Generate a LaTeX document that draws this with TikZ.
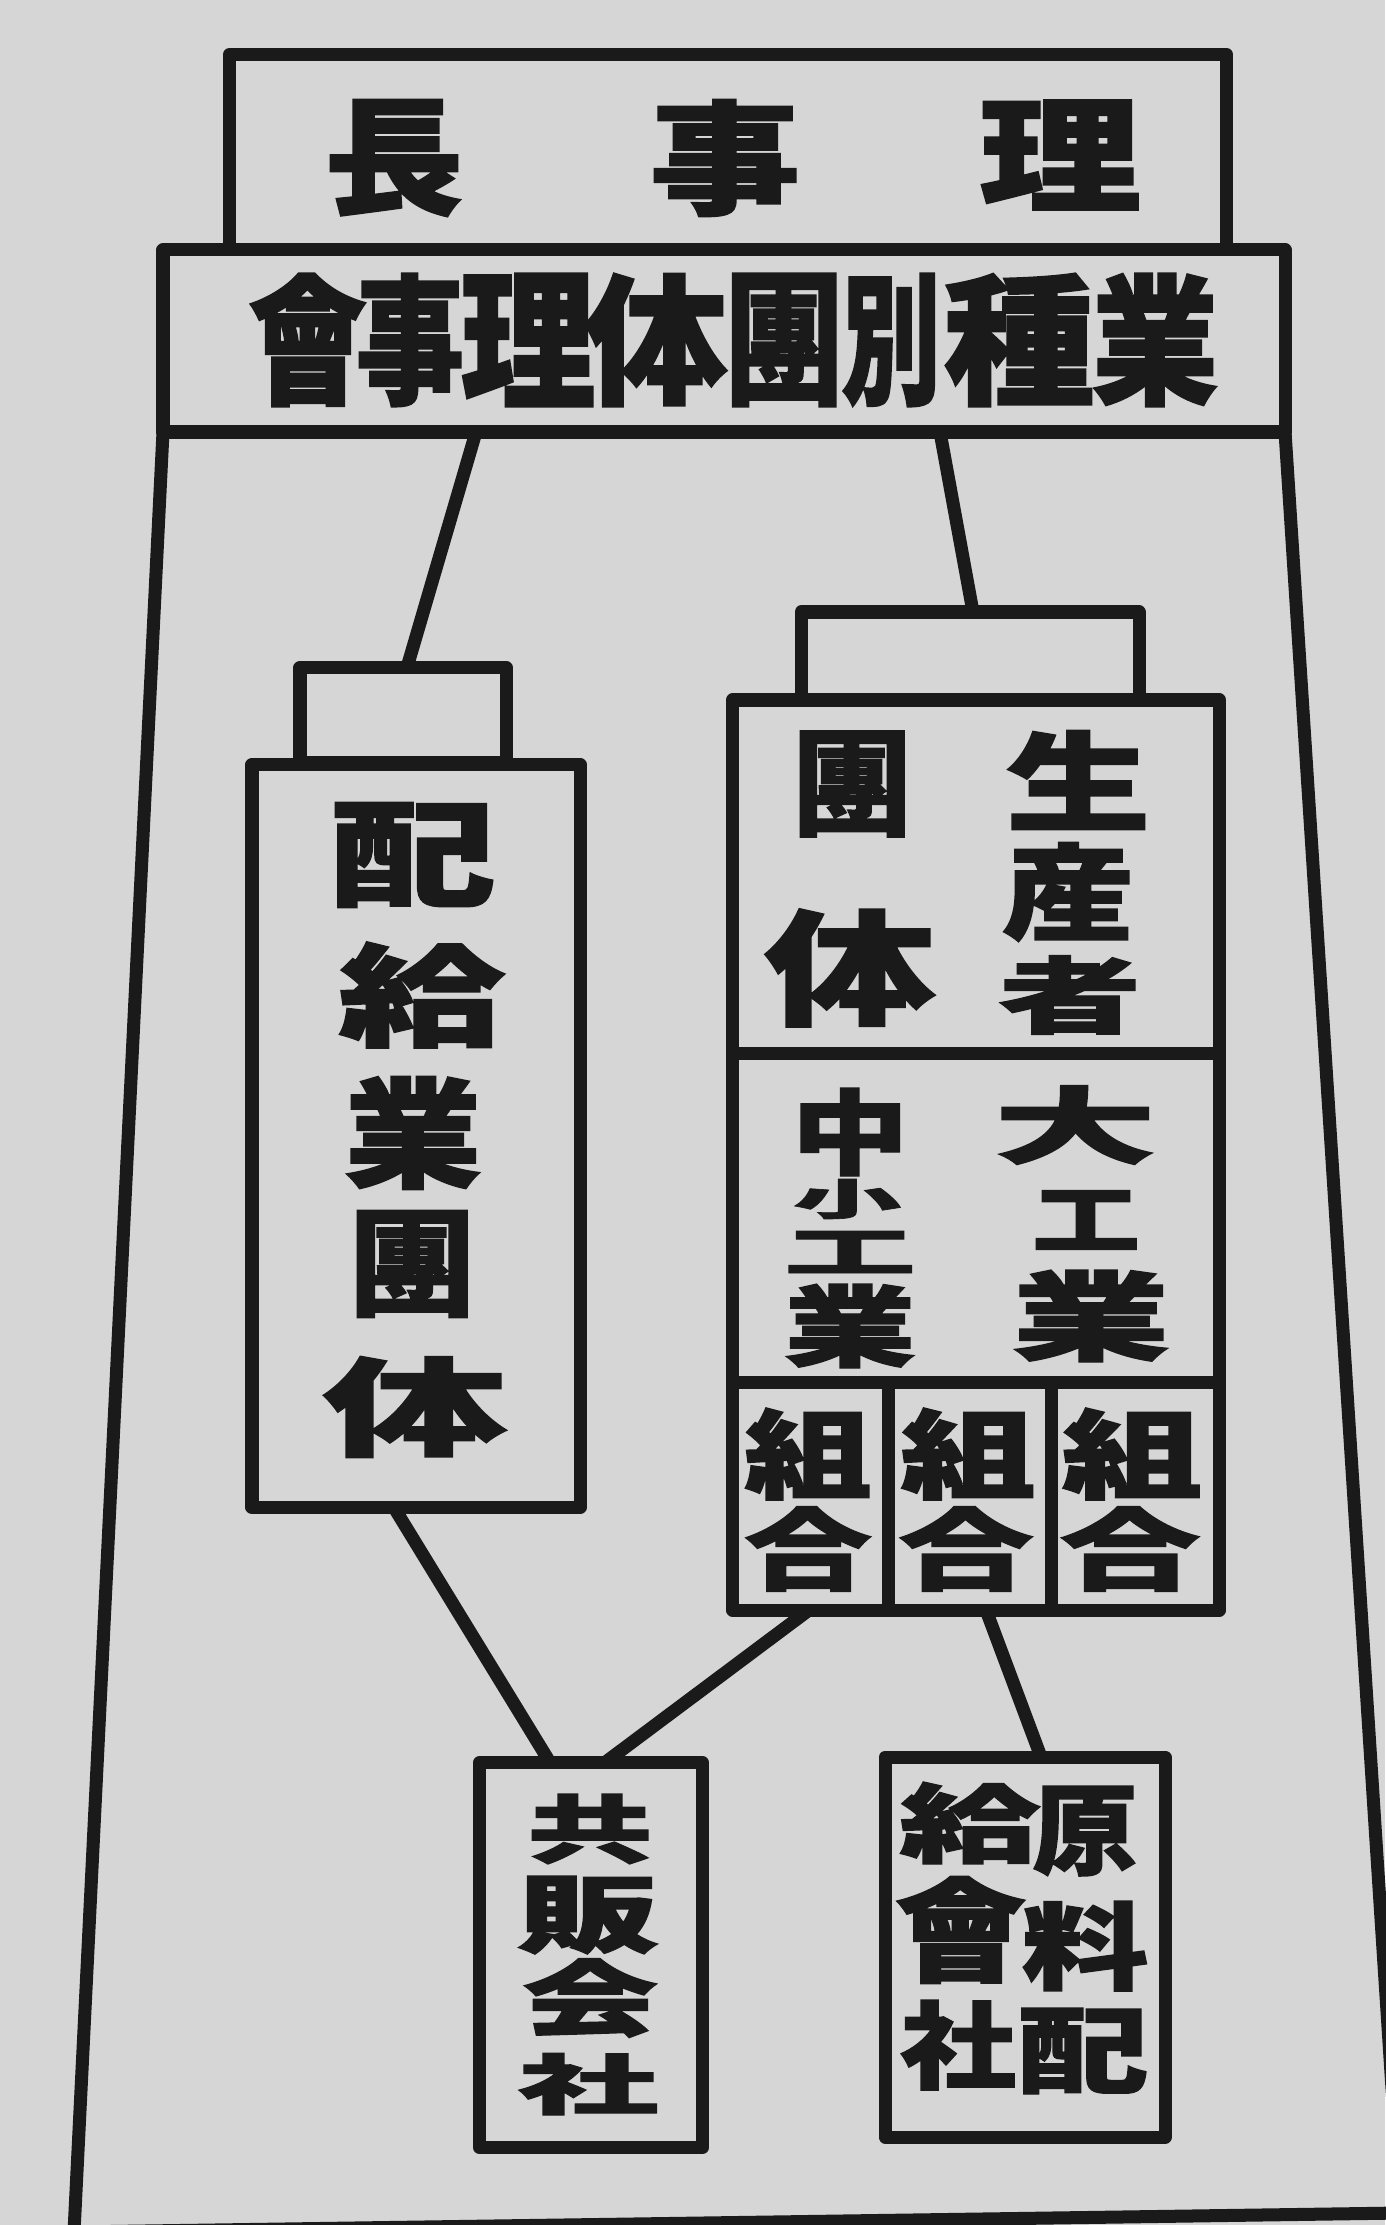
\documentclass[tikz,border=0pt]{standalone}
\usepackage{fontspec}
\usepackage{graphicx}
\newfontfamily\cjk{Noto Sans CJK JP}[BoldFeatures={FakeBold=1.5}]
\usetikzlibrary{calc}
\definecolor{paper}{RGB}{214,214,214}
\definecolor{ink}{RGB}{26,26,26}
\newlength\pxu \setlength\pxu{0.01cm}
\newlength\pxw \setlength\pxw{0.0108cm}
% name, x, y, ink width, ink height, character
\newcommand\ch[6]{\node[glyph] (#1) at (#2,#3) {\resizebox*{#4\pxw}{#5\pxu}{\cjk\bfseries #6}};}
\begin{document}
\begin{tikzpicture}[x=0.01cm,y=-0.01cm,
  box/.style={draw=ink, line width=3.7pt, line join=round, inner sep=0pt, outer sep=0pt},
  rule/.style={draw=ink, line width=3.7pt, line cap=round, line join=round},
  glyph/.style={inner sep=0pt, outer sep=0pt, text=ink}]
\useasboundingbox (0,0) rectangle (1385,2225);
\fill[paper] (0,0) rectangle (1385,2225);

% boxes
\node[box, minimum width=997\pxu, minimum height=195\pxu] (chair) at (728,152) {};
\node[box, minimum width=1122\pxu, minimum height=182\pxu] (council) at (724,341) {};
\node[box, minimum width=206\pxu, minimum height=95\pxu] (ltab) at (403,715) {};
\node[box, minimum width=328\pxu, minimum height=743\pxu] (lbox) at (416,1136) {};
\node[box, minimum width=338\pxu, minimum height=88\pxu] (rtab) at (970,656) {};
\node[box, minimum width=487\pxu, minimum height=910\pxu] (rbox) at (976,1155) {};
\node[box, minimum width=223\pxu, minimum height=385\pxu] (kyo) at (591,1955) {};
\node[box, minimum width=280\pxu, minimum height=380\pxu] (gen) at (1025,1947) {};

% outer frame
\coordinate (fbl) at (74,2232);
\coordinate (fbr) at (1400,2213);
\draw[rule] (council.south west) -- (fbl) -- (fbr) -- (council.south east);

% dividers in right box
\draw[rule, line cap=butt] (rbox.west |- 0,1053) -- (rbox.east |- 0,1053);
\draw[rule, line cap=butt] (rbox.west |- 0,1382) -- (rbox.east |- 0,1382);
\draw[rule, line cap=butt] (888,0 |- rbox.south) -- (888,1382);
\draw[rule, line cap=butt] (1051,0 |- rbox.south) -- (1051,1382);

% connectors
\draw[rule, line cap=butt] (476,0 |- council.south) -- (407,0 |- ltab.north);
\draw[rule, line cap=butt] (940,0 |- council.south) -- (973,0 |- rtab.north);
\draw[rule, line cap=butt] (394,0 |- lbox.south) -- (550,0 |- kyo.north);
\draw[rule, line cap=butt] (809,0 |- rbox.south) -- (605,0 |- kyo.north);
\draw[rule, line cap=butt] (986,0 |- rbox.south) -- (1041,0 |- gen.north);

% texts
\ch{a1}{394}{158}{128}{117}{長}
\ch{a2}{725}{158}{139}{117}{事}
\ch{a3}{1060}{155}{150}{110}{理}

\ch{b1}{308}{340}{110}{133}{會}
\ch{b2}{410}{340}{100}{133}{事}
\ch{b3}{528}{340}{125}{133}{理}
\ch{b4}{656}{340}{132}{133}{体}
\ch{b5}{784}{340}{110}{133}{團}
\ch{b6}{891}{340}{92}{133}{別}
\ch{b7}{1019}{340}{140}{133}{種}
\ch{b8}{1155}{340}{117}{133}{業}

\ch{c1}{413}{855}{153}{105}{配}
\ch{c2}{422}{995}{155}{106}{給}
\ch{c3}{413}{1133}{127}{113}{業}
\ch{c4}{412}{1264}{117}{107}{團}
\ch{c5}{415}{1407}{170}{101}{体}

\ch{d1}{852}{784}{111}{106}{團}
\ch{d2}{850}{968}{158}{118}{体}
\ch{d3}{1078}{780}{134}{99}{生}
\ch{d4}{1068}{892}{122}{99}{産}
\ch{d5}{1070}{995}{132}{79}{者}

\ch{e1}{1075}{1125}{150}{79}{大}
\ch{e2}{1086}{1220}{100}{59}{工}
\ch{e3}{1091}{1316}{146}{92}{業}
\ch{e4}{850}{1132}{108}{88}{中}
\ch{e5}{847}{1199}{100}{40}{小}
\ch{e6}{850}{1252}{122}{42}{工}
\ch{e7}{850}{1326}{122}{84}{業}

\ch{f1}{808}{1454}{118}{92}{組}
\ch{f2}{808}{1549}{118}{85}{合}
\ch{f3}{968}{1454}{125}{92}{組}
\ch{f4}{966}{1549}{125}{85}{合}
\ch{f5}{1132}{1454}{130}{92}{組}
\ch{f6}{1130}{1549}{130}{85}{合}

\ch{g1}{590}{1829}{116}{70}{共}
\ch{g2}{588}{1915}{131}{78}{販}
\ch{g3}{590}{1998}{126}{79}{会}
\ch{g4}{588}{2084}{130}{62}{社}

\ch{h1}{1085}{1831}{97}{90}{原}
\ch{h2}{1085}{1946}{117}{90}{料}
\ch{h3}{1083}{2051}{121}{86}{配}
\ch{h4}{970}{1823}{131}{82}{給}
\ch{h5}{961}{1930}{122}{107}{會}
\ch{h6}{958}{2045}{107}{90}{社}
\end{tikzpicture}
\end{document}
